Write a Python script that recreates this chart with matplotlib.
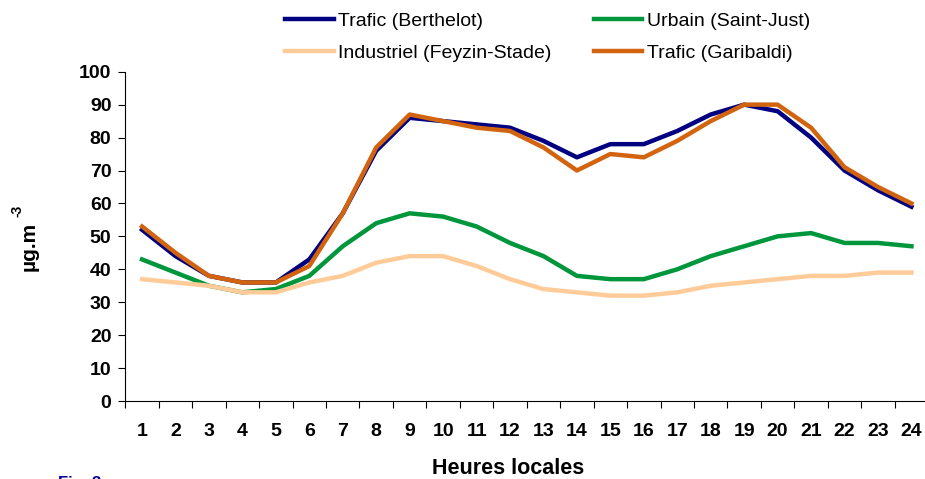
import matplotlib
matplotlib.use("Agg")
import matplotlib.pyplot as plt
import numpy as np

plt.rcParams['font.family'] = ['Liberation Sans', 'DejaVu Sans']

hours = list(range(1, 25))

berthelot = [52, 44, 38, 36, 36, 43, 57, 76, 86, 85, 84, 83, 79, 74, 78, 78, 82, 87, 90, 88, 80, 70, 64, 59]
saint_just = [43, 39, 35, 33, 34, 38, 47, 54, 57, 56, 53, 48, 44, 38, 37, 37, 40, 44, 47, 50, 51, 48, 48, 47]
feyzin = [37, 36, 35, 33, 33, 36, 38, 42, 44, 44, 41, 37, 34, 33, 32, 32, 33, 35, 36, 37, 38, 38, 39, 39]
garibaldi = [53, 45, 38, 36, 36, 41, 57, 77, 87, 85, 83, 82, 77, 70, 75, 74, 79, 85, 90, 90, 83, 71, 65, 60]

W, H = 925, 479
fig = plt.figure(figsize=(W / 100, H / 100), dpi=100)
ax = fig.add_axes([0.1355, 0.1628, 0.8679, 0.6875])

lw = 3.2
l1, = ax.plot(hours, berthelot, color='#000080', lw=lw, label='Trafic (Berthelot)')
l2, = ax.plot(hours, saint_just, color='#00963C', lw=lw, label='Urbain (Saint-Just)')
l3, = ax.plot(hours, feyzin, color='#FFCC99', lw=lw, label='Industriel (Feyzin-Stade)')
l4, = ax.plot(hours, garibaldi, color='#D2640F', lw=lw, label='Trafic (Garibaldi)')

ax.set_xlim(0.5, 24.5)
ax.set_ylim(0, 100)
ax.set_yticks(np.arange(0, 101, 10))
ax.set_xticks(hours)
ax.set_xticks(np.arange(0.5, 25, 1), minor=True)
ax.tick_params(axis='x', which='major', length=0, pad=16, labelsize=14)
ax.tick_params(axis='x', which='minor', length=5, width=0.8, direction='out')
ax.tick_params(axis='y', length=5, width=0.8, direction='out', pad=5, labelsize=14)
for lab in ax.get_xticklabels() + ax.get_yticklabels():
    lab.set_fontweight('bold')

for s in ['top', 'right']:
    ax.spines[s].set_visible(False)
for s in ['left', 'bottom']:
    ax.spines[s].set_linewidth(0.8)

# axis titles
fig.text(508 / W, 1 - 469 / H, 'Heures locales', ha='center', va='center',
         fontsize=15.5, fontweight='bold')
fig.text(29 / W, 1 - 246 / H, 'µg.m', ha='center', va='center',
         rotation=90, fontsize=15, fontweight='bold')
fig.text(18 / W, 1 - 211 / H, '-3', ha='center', va='center',
         rotation=90, fontsize=10, fontweight='bold')

fig.text(58 / W, 1 - 476 / H, 'Fig. 3', ha='left', va='top',
         fontsize=12, fontweight='bold', color='#0000A0')

fig.legend([l1, l3, l2, l4],
           ['Trafic (Berthelot)', 'Industriel (Feyzin-Stade)',
            'Urbain (Saint-Just)', 'Trafic (Garibaldi)'],
           ncol=2, loc='upper left', bbox_to_anchor=(285 / W, 1 - 12 / H),
           frameon=False, fontsize=14, handlelength=2.5, handletextpad=0.25,
           columnspacing=2.15, labelspacing=0.75, borderaxespad=0, borderpad=0)

fig.savefig('out.png', dpi=100)
